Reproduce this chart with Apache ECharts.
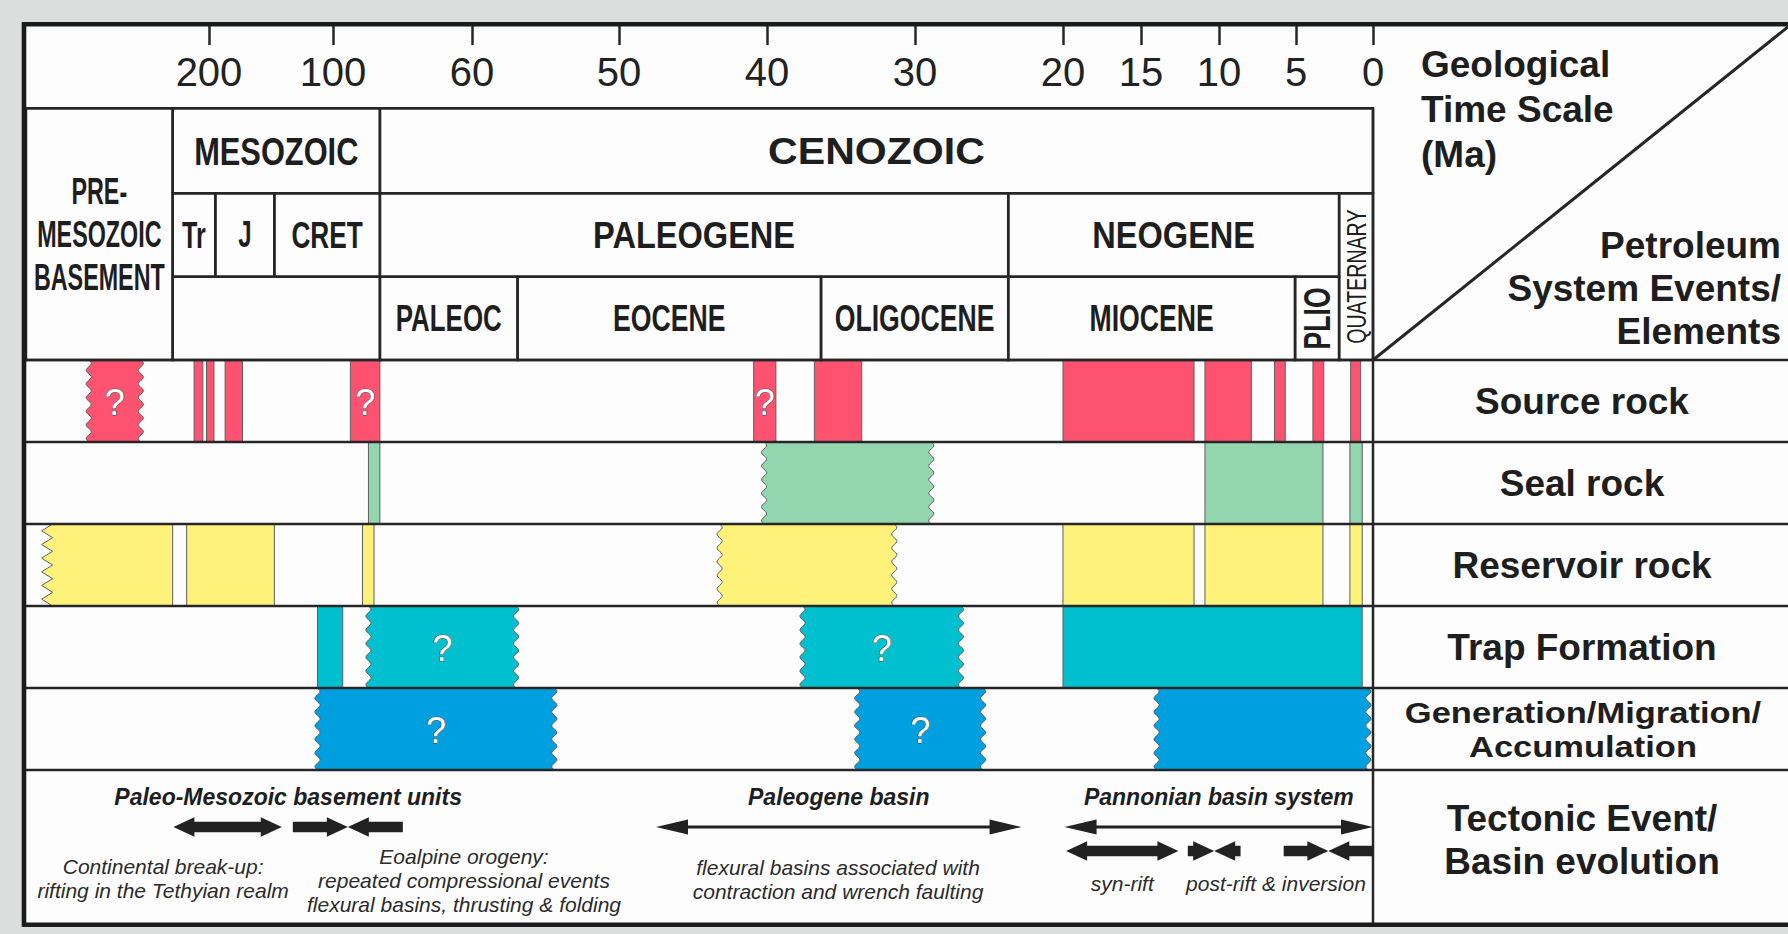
<!DOCTYPE html>
<html>
<head>
<meta charset="utf-8">
<title>Petroleum system events chart</title>
<script src="https://cdn.jsdelivr.net/npm/echarts@6.0.0/dist/echarts.min.js"></script>
<style>
html,body{margin:0;padding:0;background:#dcdedd;overflow:hidden;}
#chart{width:1788px;height:934px;}
</style>
</head>
<body>
<div id="chart"></div>
<script>
// ===================== DATA =====================
// Time-axis tick labels (Ma)
const TICK_LABELS = [200, 100, 60, 50, 40, 30, 20, 15, 10, 5, 0];

// Chronostratigraphic units: [name, older boundary Ma, younger boundary Ma, first header row, last header row]
// header rows: 1 = era, 2 = period, 3 = epoch
const CHRONO_UNITS = [
  ['PRE-\nMESOZOIC\nBASEMENT', 350, 229.3, 1, 3],
  ['MESOZOIC', 229.3, 86.5, 1, 1],
  ['CENOZOIC', 86.5, 0, 1, 1],
  ['Tr', 229.3, 194.9, 2, 2],
  ['J', 194.9, 147.3, 2, 2],
  ['CRET', 147.3, 86.5, 2, 2],
  ['PALEOGENE', 86.5, 23.7, 2, 2],
  ['NEOGENE', 23.7, 2.2, 2, 2],
  ['QUATERNARY', 2.2, 0, 2, 3],
  ['', 229.3, 86.5, 3, 3],
  ['PALEOC', 86.5, 56.9, 3, 3],
  ['EOCENE', 56.9, 36.35, 3, 3],
  ['OLIGOCENE', 36.35, 23.7, 3, 3],
  ['MIOCENE', 23.7, 5.06, 3, 3],
  ['PLIO', 5.06, 2.2, 3, 3]
];

// Petroleum system elements: [older Ma, younger Ma, older-edge type, younger-edge type, uncertain(?)]
// edge type: 0 = sharp, 1 = gradational (wavy), 2 = erosional (zigzag)
const SOURCE_ROCK = [
  [297, 255, 1, 1, 1],
  [212, 205, 0, 0, 0],
  [202, 196, 0, 0, 0],
  [187, 173, 0, 0, 0],
  [95, 86.5, 0, 0, 1],
  [40.9, 39.4, 0, 0, 1],
  [36.8, 33.6, 0, 0, 0],
  [20, 11.6, 0, 0, 0],
  [10.9, 7.9, 0, 0, 0],
  [6.4, 5.7, 0, 0, 0],
  [3.9, 3.2, 0, 0, 0],
  [1.45, 0.8, 0, 0, 0]
];
const SEAL_ROCK = [
  [89.8, 86.5, 0, 0, 0],
  [40.2, 28.9, 1, 1, 0],
  [10.9, 3.25, 0, 0, 0],
  [1.5, 0.7, 0, 0, 0]
];
const RESERVOIR_ROCK = [
  [335, 229.3, 2, 0, 0],
  [218, 147.3, 0, 0, 0],
  [91.5, 88.2, 0, 0, 0],
  [43.2, 31.4, 1, 1, 0],
  [20, 11.6, 0, 0, 0],
  [10.9, 3.25, 0, 0, 0],
  [1.5, 0.7, 0, 0, 0]
];
const TRAP_FORMATION = [
  [112.5, 97.2, 0, 0, 0],
  [89.8, 57, 1, 1, 1],
  [37.6, 26.9, 1, 1, 1],
  [20, 0.7, 0, 0, 0]
];
const GENERATION_MIGRATION = [
  [112.5, 54.4, 1, 1, 1],
  [33.9, 25.4, 1, 1, 1],
  [14, 0.3, 1, 1, 0]
];
const ELEMENT_NAMES = ['Source rock', 'Seal rock', 'Reservoir rock', 'Trap Formation', 'Generation/Migration/\nAccumulation'];

// Tectonic phases: [older Ma, younger Ma, kind, lane]
const TECTONIC_PHASES = [
  [228.7, 141.3, 'extension', 0],
  [132.4, 79.9, 'compression', 0],
  [47.5, 22.8, 'basin', 0],
  [19.9, 0, 'basin', 0],
  [19.8, 12.6, 'extension', 1],
  [12.0, 8.6, 'compression', 1],
  [5.8, 0, 'compression', 1]
];
// Tectonic headings: [text, older Ma, younger Ma]
const TECTONIC_HEADINGS = [
  ['Paleo-Mesozoic basement units', 228.7, 79.9],
  ['Paleogene basin', 47.5, 22.8],
  ['Pannonian basin system', 19.9, 0]
];
// Tectonic notes: [lines, anchor Ma]
const TECTONIC_NOTES = [
  [['Continental break-up:', 'rifting in the Tethyian realm'], 237],
  [['Eoalpine orogeny:', 'repeated compressional events', 'flexural basins, thrusting & folding'], 62.3],
  [['flexural basins associated with', 'contraction and wrench faulting'], 35.2],
  [['syn-rift'], 16.2],
  [['post-rift & inversion'], 6.3]
];
const TECTONIC_TITLE = 'Tectonic Event/\nBasin evolution';
const HEADER_TITLE_LINES = ['Geological', 'Time Scale', '(Ma)'];
const EVENTS_TITLE_LINES = ['Petroleum', 'System Events/', 'Elements'];

// ===================== AXIS SCALE (schematic broken time axis) =====================
const AXIS_KNOT_MA  = [350, 200, 100, 60, 50, 40, 30, 20, 15, 10, 5, 0];
const AXIS_KNOT_POS = [1350, 1164, 1040, 901, 754, 606, 458, 310, 232, 154, 77, 0];
function ma2u(ma) {
  const K = AXIS_KNOT_MA, P = AXIS_KNOT_POS;
  if (ma >= K[0]) return P[0] + (ma - K[0]) * (P[0] - P[1]) / (K[0] - K[1]);
  for (let i = 0; i < K.length - 1; i++) {
    if (ma <= K[i] && ma >= K[i + 1]) return P[i + 1] + (ma - K[i + 1]) * (P[i] - P[i + 1]) / (K[i] - K[i + 1]);
  }
  return 0;
}

// ===================== LAYOUT & STYLE =====================
const FONT = '"Liberation Sans", Arial, Helvetica, sans-serif';
const INK = '#1e1e1e';
const LINE = '#262626';
const FRAME = { left: 26, top: 26, right: 1373, bottom: 923, width: 1788, height: 934 };
const HEADER_EDGES = [26, 108.3, 193.3, 276.7, 360];
const EVENT_EDGES = [360, 442, 524, 606, 688, 770];
const LANE_Y = [827, 851];
const HEADING_Y = 797;
const NOTE_FIRST_Y = [866, 856, 867, 883, 883];
const NOTE_LINE_GAP = 24;
const EVENT_COLORS = ['#fd5370', '#93d5ae', '#fff27b', '#00c0d0', '#00a0e0'];
const UNIT_FONT = { // [size, scaleX, weight, rotated]
  'PRE-\nMESOZOIC\nBASEMENT': [37, 0.63, 'bold', 0],
  'MESOZOIC': [39, 0.79, 'bold', 0],
  'CENOZOIC': [37, 1.11, 'bold', 0],
  'Tr': [37, 0.68, 'bold', 0],
  'J': [37, 0.65, 'bold', 0],
  'CRET': [37, 0.71, 'bold', 0],
  'PALEOGENE': [37, 0.88, 'bold', 0],
  'NEOGENE': [37, 0.88, 'bold', 0],
  'QUATERNARY': [28, 0.70, 'normal', 1],
  'PALEOC': [37, 0.70, 'bold', 0],
  'EOCENE': [37, 0.72, 'bold', 0],
  'OLIGOCENE': [37, 0.72, 'bold', 0],
  'MIOCENE': [37, 0.72, 'bold', 0],
  'PLIO': [37, 0.72, 'bold', 1]
};

// ===================== RENDERERS =====================
const EVENT_ROWS = [SOURCE_ROCK, SEAL_ROCK, RESERVOIR_ROCK, TRAP_FORMATION, GENERATION_MIGRATION];
const EVENTS = [];
EVENT_ROWS.forEach((rows, r) => rows.forEach(d => EVENTS.push({ row: r, d: d })));

function edgePoints(x, y0, y1, type, side) {
  const pts = [];
  if (type === 1) {
    const n = 60, per = (y1 - y0) / 6, A = 2.6;
    for (let i = 0; i <= n; i++) {
      const y = y0 + (y1 - y0) * i / n;
      pts.push([x + A * Math.sin(2 * Math.PI * (y - y0) / per), y]);
    }
  } else if (type === 2) {
    const teeth = 6, h = (y1 - y0) / teeth, D = 11;
    for (let i = 0; i < teeth; i++) {
      pts.push([x + side * D, y0 + i * h]);
      pts.push([x, y0 + (i + 0.5) * h]);
    }
    pts.push([x + side * D, y1]);
  } else {
    pts.push([x, y0], [x, y1]);
  }
  return pts;
}

function renderEvent(params, api) {
  const ev = EVENTS[params.dataIndex];
  const top = EVENT_EDGES[ev.row], bot = EVENT_EDGES[ev.row + 1];
  const xa = api.coord([ma2u(ev.d[0]), top])[0];
  const xb = api.coord([ma2u(ev.d[1]), top])[0];
  const ya = api.coord([0, top])[1], yb = api.coord([0, bot])[1];
  const L = edgePoints(xa, ya, yb, ev.d[2], 1);
  const R = edgePoints(xb, ya, yb, ev.d[3], -1);
  const pts = R.concat(L.slice().reverse());
  const children = [{
    type: 'polygon', shape: { points: pts },
    style: { fill: EVENT_COLORS[ev.row], stroke: '#5e5e5e', lineWidth: 1 }
  }];
  if (ev.d[4]) {
    children.push({
      type: 'text', x: (xa + xb) / 2, y: (ya + yb) / 2 + 1,
      style: { text: '?', x: 0, y: 0, fill: '#ffffff', stroke: '#505050', lineWidth: 1.1,
        fontSize: 36, fontFamily: FONT, fontWeight: 'normal', align: 'center', verticalAlign: 'middle' }
    });
  }
  return { type: 'group', children: children };
}

function renderUnit(params, api) {
  const u = CHRONO_UNITS[params.dataIndex];
  let xa = api.coord([ma2u(u[1]), 0])[0];
  const xb = api.coord([ma2u(u[2]), 0])[0];
  xa = Math.max(xa, FRAME.left);
  const ya = HEADER_EDGES[u[3]], yb = HEADER_EDGES[u[4] + 1];
  const ch = [{
    type: 'rect', shape: { x: xa, y: ya, width: xb - xa, height: yb - ya },
    style: { fill: 'none', stroke: LINE, lineWidth: 2.5 }
  }];
  if (u[0]) {
    const f = UNIT_FONT[u[0]];
    ch.push({
      type: 'text', x: (xa + xb) / 2, y: (ya + yb) / 2, scaleX: f[1], scaleY: 1,
      rotation: f[3] ? Math.PI / 2 : 0,
      style: { text: u[0], x: 0, y: 0, fill: INK, fontSize: f[0], fontWeight: f[2], fontFamily: FONT,
        align: 'center', verticalAlign: 'middle', lineHeight: 43 }
    });
  }
  return { type: 'group', children: ch };
}

function arrowPts(xa, xb, y, hl, hh, st) {
  return [[xa, y], [xa + hl, y - hh], [xa + hl, y - st], [xb - hl, y - st], [xb - hl, y - hh], [xb, y],
          [xb - hl, y + hh], [xb - hl, y + st], [xa + hl, y + st], [xa + hl, y + hh]];
}
function renderPhase(params, api) {
  const p = TECTONIC_PHASES[params.dataIndex];
  const xa = api.coord([ma2u(p[0]), 0])[0];
  const xb = api.coord([ma2u(p[1]), 0])[0];
  const y = LANE_Y[p[3]];
  const st = { fill: '#222222' };
  if (p[2] === 'basin') {
    return { type: 'polygon', shape: { points: arrowPts(xa, xb, y, 32, 7.5, 1.5) }, style: st };
  }
  const hl = 21, hh = 9.8, sh = 5.2;
  if (p[2] === 'extension') {
    return { type: 'polygon', shape: { points: arrowPts(xa, xb, y, hl, hh, sh) }, style: st };
  }
  const xm = (xa + xb) / 2;
  return { type: 'group', children: [
    { type: 'polygon', shape: { points: [[xa, y - sh], [xm - hl, y - sh], [xm - hl, y - hh], [xm, y], [xm - hl, y + hh], [xm - hl, y + sh], [xa, y + sh]] }, style: st },
    { type: 'polygon', shape: { points: [[xb, y - sh], [xm + hl, y - sh], [xm + hl, y - hh], [xm, y], [xm + hl, y + hh], [xm + hl, y + sh], [xb, y + sh]] }, style: st }
  ] };
}

const TECT_TEXT_ITEMS = [];
TECTONIC_HEADINGS.forEach((h, i) => TECT_TEXT_ITEMS.push({ kind: 'h', i: i }));
TECTONIC_NOTES.forEach((n, i) => TECT_TEXT_ITEMS.push({ kind: 'n', i: i }));
function renderTectText(params, api) {
  const it = TECT_TEXT_ITEMS[params.dataIndex];
  if (it.kind === 'h') {
    const h = TECTONIC_HEADINGS[it.i];
    const xa = api.coord([ma2u(h[1]), 0])[0], xb = api.coord([ma2u(h[2]), 0])[0];
    return { type: 'text', x: (xa + xb) / 2, y: HEADING_Y,
      style: { text: h[0], x: 0, y: 0, fill: INK, fontSize: 23, fontWeight: 'bold', fontStyle: 'italic', fontFamily: FONT,
        align: 'center', verticalAlign: 'middle' } };
  }
  const n = TECTONIC_NOTES[it.i];
  const x = api.coord([ma2u(n[1]), 0])[0];
  const y0 = NOTE_FIRST_Y[it.i];
  return { type: 'group', children: n[0].map((line, k) => ({
    type: 'text', x: x, y: y0 + k * NOTE_LINE_GAP,
    style: { text: line, x: 0, y: 0, fill: '#2b2b2b', fontSize: 21, fontStyle: 'italic', fontFamily: FONT,
      align: 'center', verticalAlign: 'middle' } })) };
}

// ===================== STATIC FRAME (graphic) =====================
const G = [];
G.push({ type: 'rect', z: 0, shape: { x: 24, y: 24.3, width: 1800, height: 900.5 }, style: { fill: '#fdfdfd' } });
function hline(y, x1, x2, w) { G.push({ type: 'line', z: 20, shape: { x1: x1, y1: y, x2: x2, y2: y }, style: { stroke: LINE, lineWidth: w || 2.5 } }); }
function vline(x, y1, y2, w) { G.push({ type: 'line', z: 20, shape: { x1: x, y1: y1, x2: x, y2: y2 }, style: { stroke: LINE, lineWidth: w || 2.5 } }); }
hline(HEADER_EDGES[1], FRAME.left, FRAME.right);
EVENT_EDGES.forEach(y => hline(y, FRAME.left, 1800));
vline(FRAME.right, HEADER_EDGES[1], FRAME.bottom);
G.push({ type: 'line', z: 20, shape: { x1: FRAME.right, y1: HEADER_EDGES[4], x2: 1789, y2: 26 }, style: { stroke: LINE, lineWidth: 3 } });
G.push({ type: 'rect', z: 100, shape: { x: 24, y: 24.3, width: 1800, height: 900.5 }, style: { fill: 'none', stroke: '#1b1b1b', lineWidth: 4.6 } });

function gtext(text, x, y, align, size, sx, lh) {
  G.push({ type: 'text', z: 30, x: x, y: y, scaleX: sx || 1,
    style: { text: text, x: 0, y: 0, fill: INK, fontSize: size, fontWeight: 'bold', fontFamily: FONT,
      align: align, verticalAlign: 'middle', lineHeight: lh || size } });
}
const HT_Y = [64.5, 109.5, 154.5];
HEADER_TITLE_LINES.forEach((t, i) => gtext(t, 1421, HT_Y[i], 'left', 37));
const ET_Y = [245, 288, 331];
EVENTS_TITLE_LINES.forEach((t, i) => gtext(t, 1781, ET_Y[i], 'right', 37));
ELEMENT_NAMES.forEach((t, i) => {
  const yc = (EVENT_EDGES[i] + EVENT_EDGES[i + 1]) / 2;
  if (t.indexOf('\n') >= 0) gtext(t, 1583, yc + 1, 'center', 30, 1.15, 34);
  else gtext(t, 1582, yc + 0.5, 'center', 37);
});
gtext(TECTONIC_TITLE, 1582, 839.5, 'center', 37, 1, 43);

// ===================== CHART =====================
const chart = echarts.init(document.getElementById('chart'), null, { renderer: 'svg', width: FRAME.width, height: FRAME.height });
const tickU = TICK_LABELS.map(ma2u);
chart.setOption({
  backgroundColor: '#dcdedd',
  animation: false,
  grid: { left: FRAME.left, top: FRAME.top, right: FRAME.width - FRAME.right, bottom: FRAME.height - FRAME.bottom, outerBoundsMode: 'none', containLabel: false },
  xAxis: {
    type: 'value', position: 'top', inverse: true, min: 0, max: FRAME.right - FRAME.left, z: 40,
    axisLine: { show: false }, splitLine: { show: false },
    axisTick: { show: true, inside: true, length: 19, lineStyle: { color: LINE, width: 2.5 }, customValues: tickU },
    axisLabel: {
      show: true, inside: true, margin: 46, verticalAlign: 'middle', customValues: tickU,
      fontSize: 40, color: '#222222', fontFamily: FONT,
      formatter: function (v) {
        for (let i = 0; i < TICK_LABELS.length; i++) if (Math.abs(tickU[i] - v) < 0.01) return String(TICK_LABELS[i]);
        return '';
      }
    }
  },
  yAxis: { type: 'value', min: FRAME.top, max: FRAME.bottom, inverse: true, show: false },
  graphic: { elements: G },
  series: [
    { type: 'custom', name: 'elements', z: 5, renderItem: renderEvent,
      data: EVENTS.map(e => [ma2u(e.d[0]), (EVENT_EDGES[e.row] + EVENT_EDGES[e.row + 1]) / 2]) },
    { type: 'custom', name: 'chronostratigraphy', z: 25, renderItem: renderUnit,
      data: CHRONO_UNITS.map(u => [Math.min(ma2u(u[1]), 1347), 200]) },
    { type: 'custom', name: 'tectonics', z: 25, renderItem: renderPhase,
      data: TECTONIC_PHASES.map(p => [ma2u(p[0]), LANE_Y[p[3]]]) },
    { type: 'custom', name: 'tectonic labels', z: 25, renderItem: renderTectText,
      data: TECT_TEXT_ITEMS.map((t, i) => [i, 850]) }
  ]
});
</script>
</body>
</html>
